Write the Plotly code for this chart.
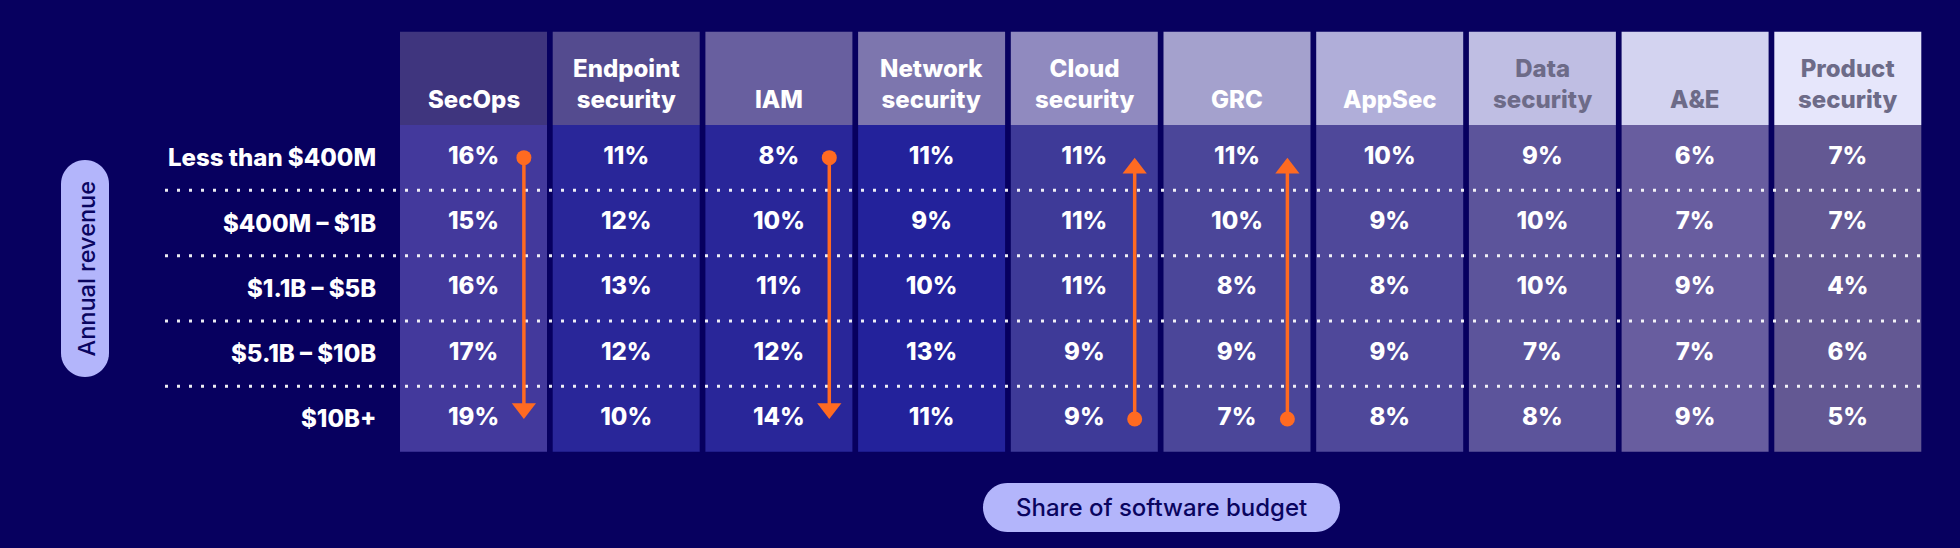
import plotly.graph_objects as go
import math

# ---------------- data ----------------
categories = ["SecOps", "Endpoint<br>security", "IAM", "Network<br>security",
              "Cloud<br>security", "GRC", "AppSec", "Data<br>security", "A&E",
              "Product<br>security"]
revenue_bands = ["Less than $400M", "$400M – $1B", "$1.1B – $5B",
                 "$5.1B – $10B", "$10B+"]
row_less_400m = [16, 11, 8, 11, 11, 11, 10, 9, 6, 7]
row_400m_1b = [15, 12, 10, 9, 11, 10, 9, 10, 7, 7]
row_1_1b_5b = [16, 13, 11, 10, 11, 8, 8, 10, 9, 4]
row_5_1b_10b = [17, 12, 12, 13, 9, 9, 9, 7, 7, 6]
row_10b_plus = [19, 10, 14, 11, 9, 7, 8, 8, 9, 5]
arrow_categories = ["SecOps", "IAM", "Cloud<br>security", "GRC"]
x_axis_label = "Share of software budget"
y_axis_label = "Annual revenue"

rows = [row_less_400m, row_400m_1b, row_1_1b_5b, row_5_1b_10b, row_10b_plus]

# ---------------- styles ----------------
BG = "#07005f"
ORANGE = "#ff6a21"
PILL = "#b3b5fb"
PILL_TEXT = "#0a0560"
header_colors = ["#3f357e", "#544b8f", "#685f9f", "#7d76ae", "#908abf",
                 "#a4a1cd", "#b0aed9", "#bfbee3", "#d3d3f0", "#e6e6fb"]
body_colors = ["#43399c", "#292699", "#292699", "#23229b", "#3e3a98",
               "#4b4699", "#4f489a", "#5c549b", "#685d9f", "#635893"]
header_text_colors = ["#ffffff"] * 7 + ["#6d6b88"] * 3
FONT = "Inter"
TXT = 24
WEIGHT = 800

W, H = 1960, 548
PX_PER_COL = 152.7
COL0_CENTER_PX = 473.5
BODY_TOP_PX = 125.0
ROW_H_PX = 65.33
HEADER_TOP_PX = 31.7
COL_W = 147.0 / PX_PER_COL
ARROW_OFFSET = 0.33
HEAD_SIZE = 21  # triangle marker size (px)


def px2x(px):
    return (px - COL0_CENTER_PX) / PX_PER_COL


def px2y(py):
    return (py - BODY_TOP_PX) / ROW_H_PX - 0.5


n_cols = len(categories)
n_rows = len(rows)
col_idx = list(range(n_cols))
header_top = px2y(HEADER_TOP_PX)
body_top = -0.5

fig = go.Figure()

# header cells
fig.add_trace(go.Bar(
    x=col_idx, y=[body_top - header_top] * n_cols, base=[header_top] * n_cols,
    width=COL_W, marker=dict(color=header_colors, line=dict(width=0)),
    hoverinfo="skip", showlegend=False))
# body cells
fig.add_trace(go.Bar(
    x=col_idx, y=[n_rows] * n_cols, base=[body_top] * n_cols,
    width=COL_W, marker=dict(color=body_colors, line=dict(width=0)),
    hoverinfo="skip", showlegend=False))

# dotted separators
dx, dy = [], []
for r in range(n_rows - 1):
    dx += [px2x(165), n_cols - 0.5 - (1 - COL_W) / 2, None]
    dy += [r + 0.5, r + 0.5, None]
fig.add_trace(go.Scatter(
    x=dx, y=dy, mode="lines",
    line=dict(color="rgba(255,255,255,0.92)", width=3, dash="3px,9px"),
    hoverinfo="skip", showlegend=False))

# cell values
tx, ty, tt = [], [], []
for r, row in enumerate(rows):
    for c, v in enumerate(row):
        tx.append(c)
        ty.append(r)
        tt.append(f"{v}%")
fig.add_trace(go.Scatter(
    x=tx, y=ty, text=tt, mode="text", textposition="middle center",
    textfont=dict(family=FONT, size=TXT, color="white", weight=WEIGHT),
    hoverinfo="skip", showlegend=False))

# trend arrows
r_head = HEAD_SIZE / 2.0
tip_to_center = r_head / ROW_H_PX          # triangle tip lies r below/above centre
line_back = 1.2 * r_head / ROW_H_PX        # stop line inside the triangle
for cat in arrow_categories:
    i = categories.index(cat)
    first, last = rows[0][i], rows[-1][i]
    down = last > first
    start, end = (0, n_rows - 1) if down else (n_rows - 1, 0)
    sgn = 1 if down else -1
    xa = i + ARROW_OFFSET
    fig.add_trace(go.Scatter(
        x=[xa, xa], y=[start, end - sgn * line_back], mode="lines",
        line=dict(color=ORANGE, width=3.5),
        hoverinfo="skip", showlegend=False))
    fig.add_trace(go.Scatter(
        x=[xa], y=[start], mode="markers",
        marker=dict(symbol="circle", size=15, color=ORANGE, line=dict(width=0)),
        hoverinfo="skip", showlegend=False))
    fig.add_trace(go.Scatter(
        x=[xa], y=[end - sgn * tip_to_center], mode="markers",
        marker=dict(symbol="triangle-down" if down else "triangle-up",
                    size=HEAD_SIZE, color=ORANGE, line=dict(width=0)),
        hoverinfo="skip", showlegend=False))

annotations = []
# header labels
for c, lab in enumerate(categories):
    annotations.append(dict(
        x=c, y=px2y(116), xref="x", yref="y", text=lab, showarrow=False,
        xanchor="center", yanchor="bottom", align="center",
        font=dict(family=FONT, size=TXT, color=header_text_colors[c], weight=WEIGHT)))
# row labels
for r, lab in enumerate(revenue_bands):
    annotations.append(dict(
        x=px2x(378), y=r, xref="x", yref="y", text=lab, showarrow=False,
        xanchor="right", yanchor="middle",
        font=dict(family=FONT, size=TXT, color="white", weight=WEIGHT)))


def pill_path(x0, y0, x1, y1):
    r = min(x1 - x0, y1 - y0) / 2.0
    pts = []
    corners = [(x1 - r, y0 + r, -90, 0), (x1 - r, y1 - r, 0, 90),
               (x0 + r, y1 - r, 90, 180), (x0 + r, y0 + r, 180, 270)]
    for cx, cy, a0, a1 in corners:
        for k in range(13):
            a = math.radians(a0 + (a1 - a0) * k / 12)
            pts.append((cx + r * math.cos(a), cy + r * math.sin(a)))
    d = "M " + " L ".join(f"{px2x(px):.5f},{px2y(py):.5f}" for px, py in pts) + " Z"
    return d


shapes = [
    dict(type="path", path=pill_path(61, 160, 109, 377), xref="x", yref="y",
         fillcolor=PILL, line=dict(width=0), layer="above"),
    dict(type="path", path=pill_path(983, 483, 1340, 532), xref="x", yref="y",
         fillcolor=PILL, line=dict(width=0), layer="above"),
]
annotations.append(dict(
    x=px2x(86), y=px2y(268.5), xref="x", yref="y", text=y_axis_label,
    showarrow=False, textangle=-90, xanchor="center", yanchor="middle",
    font=dict(family=FONT, size=23.5, color=PILL_TEXT, weight=500)))
annotations.append(dict(
    x=px2x(1161.5), y=px2y(507.5), xref="x", yref="y", text=x_axis_label,
    showarrow=False, xanchor="center", yanchor="middle",
    font=dict(family=FONT, size=24, color=PILL_TEXT, weight=500)))

fig.update_layout(
    width=W, height=H, margin=dict(l=0, r=0, t=0, b=0, pad=0),
    paper_bgcolor=BG, plot_bgcolor=BG, barmode="overlay",
    xaxis=dict(range=[px2x(0), px2x(W)], visible=False, fixedrange=True),
    yaxis=dict(range=[px2y(H), px2y(0)], visible=False, fixedrange=True),
    shapes=shapes, annotations=annotations, showlegend=False,
    hovermode=False,
)

fig.write_html("out.html", config={"displayModeBar": False},
               post_script="document.body.style.margin='0';document.body.style.overflow='hidden';")
